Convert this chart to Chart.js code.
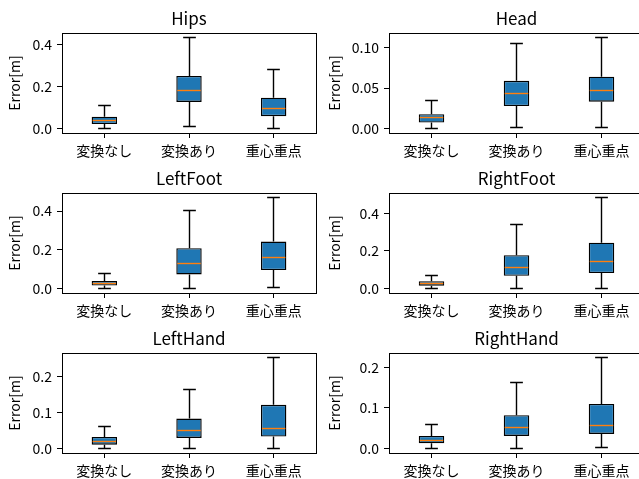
<!DOCTYPE html>
<html>
<head>
<meta charset="utf-8">
<script src="https://cdn.jsdelivr.net/npm/chart.js@4/dist/chart.umd.min.js"></script>
<style>
  html, body { margin: 0; padding: 0; background: #fff; width: 639px; height: 479px; overflow: hidden; }
  body { position: relative; }
  canvas { position: absolute; }
</style>
</head>
<body>
<script>
// Methods compared in every panel
const categories = ['変換なし', '変換あり', '重心重点'];

// Box statistics per method: [lower whisker, Q1, median, Q3, upper whisker]
const hipsStats      = [[0.001, 0.022, 0.041, 0.057, 0.108], [0.0096, 0.127, 0.183, 0.250, 0.432], [0.001, 0.059, 0.094, 0.147, 0.280]];
const headStats      = [[0.0003, 0.0075, 0.0133, 0.0178, 0.0349], [0.0012, 0.0278, 0.0436, 0.0589, 0.1046], [0.0012, 0.0332, 0.0465, 0.0639, 0.1120]];
const leftFootStats  = [[0.001, 0.0157, 0.028, 0.040, 0.0765], [0.001, 0.073, 0.129, 0.209, 0.405], [0.007, 0.0957, 0.160, 0.243, 0.470]];
const rightFootStats = [[0.001, 0.016, 0.0287, 0.0395, 0.0717], [0.001, 0.068, 0.111, 0.178, 0.341], [0.001, 0.0825, 0.145, 0.244, 0.484]];
const leftHandStats  = [[0.0005, 0.011, 0.0205, 0.0326, 0.0614], [0.0005, 0.0298, 0.0493, 0.0837, 0.1656], [0.0005, 0.0335, 0.0558, 0.1219, 0.253]];
const rightHandStats = [[0.0005, 0.0132, 0.0206, 0.0313, 0.0593], [0.0005, 0.0313, 0.0519, 0.0823, 0.162], [0.0033, 0.0362, 0.0568, 0.110, 0.2239]];

// Y tick values per panel
const hipsTicks      = [0, 0.2, 0.4];
const headTicks      = [0, 0.05, 0.10];
const leftFootTicks  = [0, 0.2, 0.4];
const rightFootTicks = [0, 0.2, 0.4];
const leftHandTicks  = [0, 0.1, 0.2];
const rightHandTicks = [0, 0.1, 0.2];

const yTitle = 'Error[m]';

const panels = [
  { title: 'Hips',      stats: hipsStats,      ticks: hipsTicks,      row: 0, col: 0 },
  { title: 'Head',      stats: headStats,      ticks: headTicks,      row: 0, col: 1 },
  { title: 'LeftFoot',  stats: leftFootStats,  ticks: leftFootTicks,  row: 1, col: 0 },
  { title: 'RightFoot', stats: rightFootStats, ticks: rightFootTicks, row: 1, col: 1 },
  { title: 'LeftHand',  stats: leftHandStats,  ticks: leftHandTicks,  row: 2, col: 0 },
  { title: 'RightHand', stats: rightHandStats, ticks: rightHandTicks, row: 2, col: 1 }
];

// Grid geometry
const FONT = "'Noto Sans CJK JP', sans-serif";
const columns = [
  { left: 0,   width: 320, yAxisWidth: 62, padRight: 4 },
  { left: 320, width: 330, yAxisWidth: 69, padRight: 6 }
];
const rowTops = [0, 160, 320];
const PANEL_H = 160;
const X_AXIS_H = 27;

const BOX_BLUE = '#1f77b4';
const MEDIAN_ORANGE = '#ff7f0e';
const LINE_W = 1.4;

const snap = v => Math.round(v - 0.5) + 0.5;

// Whiskers, caps, medians and the axes frame
function boxWhiskerPlugin(stats) {
  return {
    id: 'boxWhiskers',
    afterDatasetsDraw(chart) {
      const { ctx, chartArea: a } = chart;
      const x = chart.scales.x, y = chart.scales.y;
      const meta = chart.getDatasetMeta(0);
      ctx.save();
      ctx.lineWidth = LINE_W;
      stats.forEach((s, i) => {
        const bar = meta.data[i];
        const cx = snap(x.getPixelForValue(i));
        const half = bar.width / 2;
        const capHalf = half / 2;
        const yLo = snap(y.getPixelForValue(s[0]));
        const yQ1 = y.getPixelForValue(s[1]);
        const yMed = snap(y.getPixelForValue(s[2]));
        const yQ3 = y.getPixelForValue(s[3]);
        const yHi = snap(y.getPixelForValue(s[4]));
        ctx.strokeStyle = '#000';
        ctx.beginPath();
        ctx.moveTo(cx, yLo); ctx.lineTo(cx, yQ1);
        ctx.moveTo(cx, yQ3); ctx.lineTo(cx, yHi);
        ctx.moveTo(cx - capHalf, yLo); ctx.lineTo(cx + capHalf, yLo);
        ctx.moveTo(cx - capHalf, yHi); ctx.lineTo(cx + capHalf, yHi);
        ctx.stroke();
        ctx.strokeStyle = MEDIAN_ORANGE;
        ctx.beginPath();
        ctx.moveTo(bar.x - half + 1, yMed);
        ctx.lineTo(bar.x + half - 1, yMed);
        ctx.stroke();
      });
      ctx.lineWidth = 1;
      ctx.strokeStyle = '#000';
      ctx.strokeRect(snap(a.left), snap(a.top), Math.round(a.right - a.left), Math.round(a.bottom - a.top));
      ctx.restore();
    }
  };
}

panels.forEach(p => {
  const col = columns[p.col];
  const canvas = document.createElement('canvas');
  canvas.width = col.width;
  canvas.height = PANEL_H;
  canvas.style.left = col.left + 'px';
  canvas.style.top = rowTops[p.row] + 'px';
  canvas.style.width = col.width + 'px';
  canvas.style.height = PANEL_H + 'px';
  document.body.appendChild(canvas);

  const lo = Math.min(...p.stats.map(s => s[0]));
  const hi = Math.max(...p.stats.map(s => s[4]));
  const margin = 0.05 * (hi - lo);
  const decimals = Math.max(1, ...p.ticks.map(v => (String(v).split('.')[1] || '').length));

  new Chart(canvas, {
    type: 'bar',
    data: {
      labels: categories,
      datasets: [{
        data: p.stats.map(s => [s[1], s[3]]),
        backgroundColor: BOX_BLUE,
        borderColor: '#000',
        borderWidth: LINE_W,
        borderSkipped: false,
        barPercentage: 0.3,
        categoryPercentage: 1
      }]
    },
    options: {
      responsive: false,
      animation: false,
      devicePixelRatio: 1,
      layout: { padding: { left: 0, right: col.padRight, top: 0, bottom: 0 } },
      plugins: {
        legend: { display: false },
        tooltip: { enabled: false },
        title: {
          display: true,
          text: p.title,
          fullSize: false,
          color: '#000',
          font: { family: FONT, size: 17, weight: 400, lineHeight: 1.2 },
          padding: { top: 8.3, bottom: 4.3 }
        }
      },
      scales: {
        x: {
          type: 'category',
          offset: true,
          grid: { display: true, drawOnChartArea: false, offset: false, tickLength: 5, color: '#000', tickWidth: 1 },
          border: { display: false },
          ticks: { color: '#000', font: { family: FONT, size: 14 }, padding: 4, maxRotation: 0, autoSkip: false },
          afterFit(scale) { scale.height = X_AXIS_H; }
        },
        y: {
          type: 'linear',
          min: lo - margin,
          max: hi + margin,
          grid: { display: true, drawOnChartArea: false, tickLength: 5, color: '#000', tickWidth: 1 },
          border: { display: false },
          ticks: {
            color: '#000',
            font: { family: FONT, size: 14 },
            padding: 5,
            callback: v => Number(v).toFixed(decimals)
          },
          afterBuildTicks(scale) { scale.ticks = p.ticks.map(v => ({ value: v })); },
          afterFit(scale) { scale.width = col.yAxisWidth; },
          title: {
            display: true,
            text: yTitle,
            color: '#000',
            font: { family: FONT, size: 14 },
            padding: { top: 6, bottom: 0 }
          }
        }
      }
    },
    plugins: [boxWhiskerPlugin(p.stats)]
  });
});
</script>
</body>
</html>
